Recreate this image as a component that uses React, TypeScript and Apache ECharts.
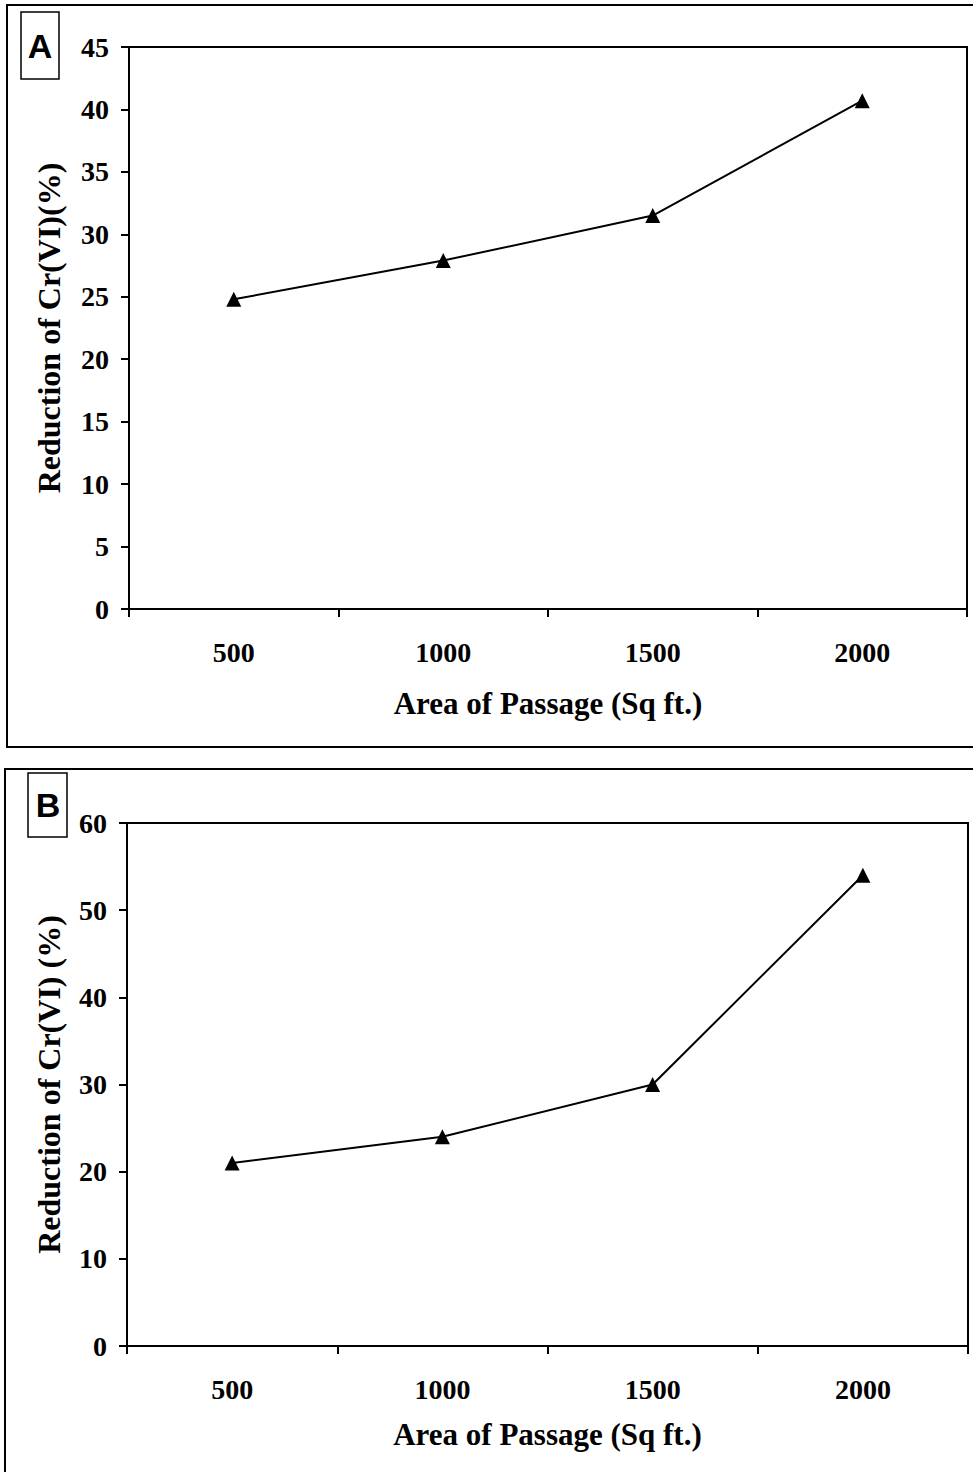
import React, { useEffect, useRef } from "react";
import * as echarts from "echarts";

const categories = ["500", "1000", "1500", "2000"];
const seriesA = [24.8, 27.9, 31.5, 40.7];
const seriesB = [21, 24, 30, 54];
const xTitle = "Area of Passage (Sq ft.)";
const yTitleA = "Reduction of Cr(VI)(%)";
const yTitleB = "Reduction of Cr(VI) (%)";

const SERIF = "'Liberation Serif', 'Times New Roman', serif";
const SANS = "'Liberation Sans', Arial, sans-serif";

function xAxisCfg(gridIndex: number, gap: number) {
  return {
    type: "category",
    gridIndex,
    data: categories,
    boundaryGap: true,
    name: xTitle,
    nameLocation: "middle",
    nameGap: gap,
    nameTextStyle: { fontFamily: SERIF, fontWeight: "bold", fontSize: 31, color: "#000" },
    axisLine: { lineStyle: { color: "#000", width: 2 } },
    axisTick: { show: true, inside: false, length: 8, interval: 0, lineStyle: { color: "#000", width: 2 } },
    axisLabel: { margin: 29, fontFamily: SERIF, fontWeight: "bold", fontSize: 28, color: "#000" },
    splitLine: { show: false },
  };
}

function yAxisCfg(gridIndex: number, max: number, interval: number, title: string, gap: number) {
  return {
    type: "value",
    gridIndex,
    min: 0,
    max,
    interval,
    name: title,
    nameLocation: "middle",
    nameRotate: 90,
    nameGap: gap,
    nameTextStyle: { fontFamily: SERIF, fontWeight: "bold", fontSize: 32, color: "#000" },
    axisLine: { show: true, lineStyle: { color: "#000", width: 2 } },
    axisTick: { show: true, inside: false, length: 8, lineStyle: { color: "#000", width: 2 } },
    axisLabel: { margin: 20, fontFamily: SERIF, fontWeight: "bold", fontSize: 28, color: "#000" },
    splitLine: { show: false },
  };
}

function seriesCfg(idx: number, data: number[]) {
  return {
    type: "line",
    xAxisIndex: idx,
    yAxisIndex: idx,
    data,
    symbol: "triangle",
    symbolSize: 15,
    itemStyle: { color: "#000" },
    lineStyle: { color: "#000", width: 2 },
    silent: true,
  };
}

export default function App() {
  const ref = useRef<HTMLDivElement>(null);
  useEffect(() => {
    if (!ref.current) return;
    const chart = echarts.init(ref.current, null, { renderer: "svg" });
    chart.setOption({
      animation: false,
      backgroundColor: "#fff",
      grid: [
        { left: 129, top: 47, width: 838, height: 562, show: true, borderColor: "#000", borderWidth: 2, backgroundColor: "transparent" },
        { left: 127, top: 823, width: 841, height: 523, show: true, borderColor: "#000", borderWidth: 2, backgroundColor: "transparent" },
      ],
      xAxis: [xAxisCfg(0, 79), xAxisCfg(1, 73)],
      yAxis: [yAxisCfg(0, 45, 5, yTitleA, 64), yAxisCfg(1, 60, 10, yTitleB, 62)],
      series: [seriesCfg(0, seriesA), seriesCfg(1, seriesB)],
      graphic: [
        { type: "rect", shape: { x: 7, y: 5, width: 990, height: 742 }, style: { fill: "none", stroke: "#000", lineWidth: 2 }, z: -1 },
        { type: "rect", shape: { x: 5, y: 769, width: 990, height: 740 }, style: { fill: "none", stroke: "#000", lineWidth: 2 }, z: -1 },
        { type: "rect", shape: { x: 21, y: 12, width: 38, height: 67 }, style: { fill: "#fff", stroke: "#000", lineWidth: 1.5 } },
        { type: "text", x: 40, y: 46, style: { text: "A", fontFamily: SANS, fontWeight: "bold", fontSize: 34, fill: "#000", align: "center", verticalAlign: "middle" } },
        { type: "rect", shape: { x: 28, y: 773, width: 39, height: 64 }, style: { fill: "#fff", stroke: "#000", lineWidth: 1.5 } },
        { type: "text", x: 48, y: 805, style: { text: "B", fontFamily: SANS, fontWeight: "bold", fontSize: 34, fill: "#000", align: "center", verticalAlign: "middle" } },
      ],
    });
    return () => chart.dispose();
  }, []);
  return <div ref={ref} style={{ position: "absolute", left: 0, top: 0, width: 973, height: 1472 }} />;
}
